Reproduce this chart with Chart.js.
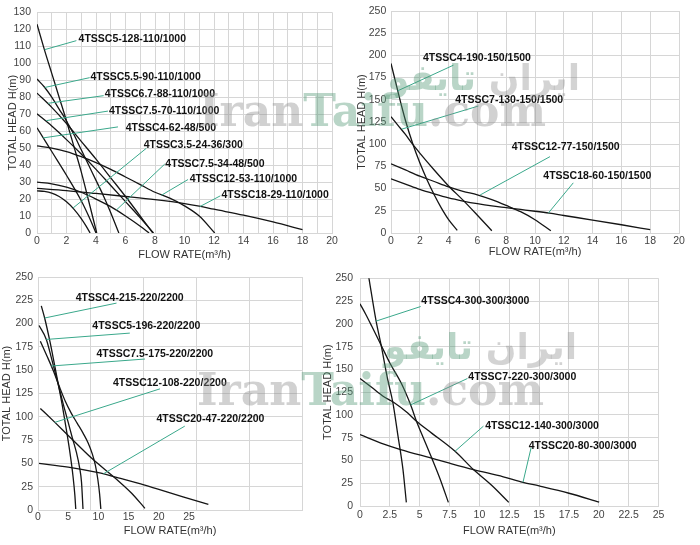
<!DOCTYPE html>
<html lang="en">
<head>
  <meta charset="UTF-8" />
  <title>4TSSC pump curves</title>
  <script src="https://cdn.jsdelivr.net/npm/chart.js"></script>
  <style>
    body { margin: 0; background: #fff; }
    .page { position: relative; width: 700px; height: 545px; overflow: hidden; }
    .box { position: absolute; }
    .wm {
      position: absolute;
      font: bold 44px 'DejaVu Serif', serif;
      line-height: 44px;
      color: rgba(140, 140, 140, 0.4);
      white-space: nowrap;
      pointer-events: none;
    }
    .fa {
      position: absolute;
      font: bold 36px 'DejaVu Sans', sans-serif;
      line-height: 36px;
      color: rgba(140, 140, 140, 0.38);
      white-space: nowrap;
      pointer-events: none;
    }
    .g { color: rgba(80, 150, 115, 0.4); }
  </style>
</head>
<body>
  <div class="page">
    <div class="box" style="left:0;top:0"><canvas id="c1" width="340" height="262"></canvas></div>
    <div class="box" style="left:340px;top:0"><canvas id="c2" width="360" height="262"></canvas></div>
    <div class="box" style="left:0;top:265px"><canvas id="c3" width="318" height="280"></canvas></div>
    <div class="box" style="left:318px;top:265px"><canvas id="c4" width="382" height="280"></canvas></div>

    <div class="fa" dir="rtl" style="right:120px;top:60px"><span>ایران</span> <span class="g">تایفو</span></div>
    <div class="wm" style="left:199px;top:89px">Iran<span class="g">Taifu</span>.com</div>
    <div class="fa" dir="rtl" style="right:123px;top:329px"><span>ایران</span> <span class="g">تایفو</span></div>
    <div class="wm" style="left:197px;top:368px">Iran<span class="g">Taifu</span>.com</div>
  </div>

  <script>
    // --- chart 1 (110/1000 family etc.) flow q (m3/h), head h (m)
    const q5_128 = [0, 0.5, 1, 1.5, 2, 2.5, 3, 3.5, 4.05];
    const h5_128 = [123, 108, 94, 80, 66, 51, 36, 19, 0];
    const q55_90 = [0, 0.5, 1, 1.5, 2, 2.5, 3, 3.5, 4, 4.5, 5, 5.55];
    const h55_90 = [90.7, 86, 80, 73, 66, 58, 49, 40, 31, 22, 12, 0];
    const q67_88 = [0, 1, 2, 3, 4, 5, 6, 7, 7.85];
    const h67_88 = [82.4, 74, 64.5, 54, 43.5, 32.5, 21.5, 10, 0];
    const q75_70 = [0, 1, 2, 3, 4, 5, 6, 7, 7.9];
    const h75_70 = [70.2, 63, 55, 46.5, 37.5, 28, 18.5, 9, 0];
    const q4_62 = [0, 1, 2, 3, 3.5, 4];
    const h4_62 = [62, 48, 34, 19, 10, 0];
    const q35_24 = [0, 0.5, 1, 1.5, 2, 2.5, 3, 3.3, 3.6];
    const h35_24 = [24.8, 24.5, 23.5, 21.5, 18.4, 14.1, 8.5, 4.5, 0];
    const q75_34 = [0, 1, 2, 3, 4, 5, 6, 7, 7.6];
    const h75_34 = [30, 29, 27, 24, 20, 15.5, 10, 4, 0];
    const q12_53 = [0, 1, 2, 3, 4, 5, 6, 7, 8, 9, 10, 11, 12.05];
    const h12_53 = [51.3, 50, 48, 45, 41.5, 37.5, 33, 28.5, 24, 20.5, 16, 10, 0];
    const q18_29 = [0, 2, 4, 6, 8, 10, 11, 12, 14, 16, 18];
    const h18_29 = [26.3, 25, 23.3, 21.5, 19.6, 17.3, 15.8, 14, 10.5, 6.5, 2];

    // --- chart 2 (150/1500)
    const q4_190 = [0, 0.5, 1, 1.5, 2, 2.5, 3, 3.5, 4, 4.6];
    const h4_190 = [191, 158, 127, 101, 79, 60, 43, 28, 15, 3];
    const q7_130 = [0, 0.5, 1, 1.5, 2, 3, 4, 5, 6, 7];
    const h7_130 = [131, 121, 111, 100, 90, 71, 53, 37, 20, 2.6];
    const q12_77 = [0, 1, 2, 3, 4, 5, 6, 7, 8, 9, 10, 11.1];
    const h12_77 = [78, 71, 64, 58, 52, 47, 43, 37.5, 31, 24, 15, 2.6];
    const q18_60 = [0, 1, 2, 3, 4, 5, 6, 7, 8, 9, 10, 11, 12, 14, 16, 18];
    const h18_60 = [61, 55, 49, 44, 39.5, 36, 33, 30.5, 28.5, 26.5, 24.5, 22.3, 19.7, 14.6, 9.3, 3.7];

    // --- chart 3 (220/2200)
    const q4_215 = [0.55, 1.1, 2, 2.7, 3.3, 4, 4.7, 5.3, 5.8, 6.1, 6.25];
    const h4_215 = [219, 206, 180, 157, 137, 113, 86, 61, 36, 16, 1];
    const q5_196 = [0.17, 1.38, 2.3, 3.3, 4.2, 5, 5.7, 6.35, 6.9, 7.2, 7.45];
    const h5_196 = [198, 183, 161, 136, 113, 94, 77, 62, 45, 30, 1];
    const q75_175 = [0.39, 1.5, 2.5, 3.5, 4.5, 5.5, 6.5, 7.5, 8.3, 9, 9.5, 9.9, 10.2, 10.4];
    const h75_175 = [181, 165, 150, 133, 117, 104, 93, 82, 72, 60, 48, 33, 17, 1];
    const q12_108 = [0.39, 2.8, 5, 8.8, 13, 15.5, 17.7];
    const h12_108 = [109, 94, 80, 56, 33, 18, 1.8];
    const q20_47 = [0.17, 5, 10, 13, 17, 20, 24, 28.2];
    const h20_47 = [50, 46, 40, 35, 28, 22, 14, 6];

    // --- chart 4 (300/3000)
    const q4_300 = [0.6, 0.75, 1.35, 1.77, 2.3, 2.76, 3.18, 3.6, 3.88];
    const h4_300 = [262, 250, 203, 176.5, 140, 113, 77, 40, 4];
    const q7_220 = [0, 0.5, 1, 1.77, 2.5, 3.46, 4.3, 4.73, 5.3, 6, 6.7, 7.4];
    const h7_220 = [222, 210, 197, 176.5, 157, 134.7, 109, 93, 75, 53, 30, 4];
    const q12_140 = [0, 1, 2, 2.84, 4, 4.73, 6, 7.96, 9.5, 11, 12.46];
    const h12_140 = [140, 130, 120, 113.6, 102, 93, 80, 60, 40, 23, 4];
    const q20_80 = [0, 2, 3.4, 5.85, 7.5, 9.5, 12, 13.65, 15, 17.5, 20.03];
    const h20_80 = [78.4, 68, 62, 53, 47, 40, 32, 26, 22, 14, 4.3];

    const FONT = "'Liberation Sans Narrow', 'Liberation Sans', Arial, sans-serif";
    const GRID = '#d6d6d6';
    const TEAL = '#3aa88b';

    function curve(q, h) {
      return {
        data: q.map((v, i) => ({ x: v, y: h[i] })),
        borderColor: '#151515',
        borderWidth: 1.3,
        pointRadius: 0,
        fill: false,
        cubicInterpolationMode: 'monotone'
      };
    }

    // model labels with teal leader lines, placed in data units
    const notesPlugin = {
      id: 'notes',
      afterDatasetsDraw(chart, args, opts) {
        const { ctx } = chart;
        const x = chart.scales.x, y = chart.scales.y;
        ctx.save();
        (opts.items || []).forEach(n => {
          ctx.strokeStyle = TEAL;
          ctx.lineWidth = 1;
          ctx.beginPath();
          ctx.moveTo(x.getPixelForValue(n.from[0]), y.getPixelForValue(n.from[1]));
          ctx.lineTo(x.getPixelForValue(n.to[0]), y.getPixelForValue(n.to[1]));
          ctx.stroke();
          ctx.fillStyle = '#111';
          ctx.font = 'bold 10.5px ' + FONT;
          ctx.textBaseline = 'middle';
          ctx.textAlign = 'left';
          ctx.fillText(n.text, x.getPixelForValue(n.at[0]), y.getPixelForValue(n.at[1]));
        });
        ctx.restore();
      }
    };

    function makeChart(id, s) {
      const scales = {
        x: {
          type: 'linear', min: s.xMin, max: s.xMax,
          grid: { display: s.xGrid !== false, color: GRID, drawTicks: false },
          border: { color: GRID },
          ticks: {
            stepSize: s.xStep, autoSkip: false, maxRotation: 0, padding: s.xPad,
            color: '#444', font: { family: FONT, size: 10.5 },
            callback: s.xLabel
          },
          title: {
            display: true, text: 'FLOW RATE(m³/h)', color: '#333',
            font: { family: FONT, size: 11 }, padding: { top: 0, bottom: s.xtPad }
          },
          afterFit: sc => { sc.height = s.xH; }
        },
        y: {
          type: 'linear', min: 0, max: s.yMax,
          grid: { color: GRID, drawTicks: false },
          border: { color: GRID },
          ticks: {
            stepSize: s.yStep, autoSkip: false, padding: s.yPad,
            color: '#444', font: { family: FONT, size: 10.5 }
          },
          title: {
            display: true, text: 'TOTAL HEAD H(m)', color: '#333',
            font: { family: FONT, size: 11 }, padding: { top: s.ytPad, bottom: 0 }
          },
          afterFit: sc => { sc.width = s.yW; }
        }
      };
      if (s.gridAxis) {
        scales.xg = {
          type: 'linear', position: 'bottom', min: 0, max: s.gridAxis,
          grid: { color: GRID, drawTicks: false },
          border: { display: false },
          ticks: { display: false, stepSize: 1 },
          afterFit: sc => { sc.height = 0; }
        };
      }
      return new Chart(document.getElementById(id), {
        type: 'line',
        data: { datasets: s.curves.map(c => curve(c[0], c[1])) },
        options: {
          responsive: false,
          devicePixelRatio: 1,
          animation: false,
          layout: { padding: s.pad },
          plugins: { legend: { display: false }, tooltip: { enabled: false }, notes: { items: s.notes } },
          scales: scales
        },
        plugins: [notesPlugin]
      });
    }

    makeChart('c1', {
      xMin: 0, xMax: 20, xStep: 1, xLabel: v => (v % 2 === 0 ? v : ''),
      yMax: 130, yStep: 10,
      pad: { left: 0, right: 8, top: 9, bottom: 0 }, yW: 37, xH: 29,
      xPad: 2, yPad: 6, ytPad: 6.4, xtPad: 0.4,
      curves: [[q5_128, h5_128], [q55_90, h55_90], [q67_88, h67_88], [q75_70, h75_70], [q4_62, h4_62],
               [q35_24, h35_24], [q75_34, h75_34], [q12_53, h12_53], [q18_29, h18_29]],
      notes: [
        { text: '4TSSC5-128-110/1000', at: [2.82, 114.1], from: [2.67, 113.3], to: [0.52, 108] },
        { text: '4TSSC5.5-90-110/1000', at: [3.62, 91.9], from: [3.57, 91.5], to: [0.52, 85.7] },
        { text: '4TSSC6.7-88-110/1000', at: [4.59, 81.8], from: [4.52, 80.9], to: [0.75, 76.4] },
        { text: '4TSSC7.5-70-110/1000', at: [4.88, 72], from: [4.81, 71.8], to: [0.63, 66.2] },
        { text: '4TSSC4-62-48/500', at: [6.01, 61.9], from: [5.49, 62.5], to: [0.41, 56] },
        { text: '4TSSC3.5-24-36/300', at: [7.23, 51.6], from: [7.41, 49.9], to: [2.44, 14.7] },
        { text: '4TSSC7.5-34-48/500', at: [8.7, 40.8], from: [8.66, 40.6], to: [5.38, 13.5] },
        { text: '4TSSC12-53-110/1000', at: [10.35, 31.5], from: [10.24, 31.5], to: [8.43, 22.2] },
        { text: '4TSSC18-29-110/1000', at: [12.5, 22.4], from: [12.43, 21.9], to: [11.03, 15.5] }
      ]
    });

    makeChart('c2', {
      xMin: 0, xMax: 20, xStep: 2,
      yMax: 250, yStep: 25,
      pad: { left: 0, right: 21, top: 9, bottom: 0 }, yW: 51, xH: 29,
      xPad: 1.5, yPad: 4.7, ytPad: 15.1, xtPad: 3.1,
      curves: [[q4_190, h4_190], [q7_130, h7_130], [q12_77, h12_77], [q18_60, h18_60]],
      notes: [
        { text: '4TSSC4-190-150/1500', at: [2.22, 197], from: [4.34, 189], to: [0.45, 160] },
        { text: '4TSSC7-130-150/1500', at: [4.46, 149.4], from: [6.07, 143], to: [0.76, 117] },
        { text: '4TSSC12-77-150/1500', at: [8.38, 96.7], from: [11.04, 86], to: [6.19, 42.8] },
        { text: '4TSSC18-60-150/1500', at: [10.58, 64.3], from: [12.66, 56.5], to: [10.92, 22.3] }
      ]
    });

    makeChart('c3', {
      xMin: 0, xMax: 43.7, xStep: 5, xGrid: false, gridAxis: 5,
      xLabel: v => (v <= 25 && v % 5 === 0 ? v : ''),
      yMax: 250, yStep: 25,
      pad: { left: 0, right: 16, top: 12, bottom: 0 }, yW: 38, xH: 35,
      xPad: 1, yPad: 5, ytPad: 0.7, xtPad: 7.4,
      curves: [[q4_215, h4_215], [q5_196, h5_196], [q75_175, h75_175], [q12_108, h12_108], [q20_47, h20_47]],
      notes: [
        { text: '4TSSC4-215-220/2200', at: [6.24, 227.4], from: [13, 222], to: [1.1, 206] },
        { text: '4TSSC5-196-220/2200', at: [9.0, 197], from: [15.2, 189.8], to: [1.38, 183] },
        { text: '4TSSC7.5-175-220/2200', at: [9.67, 167], from: [17.7, 162], to: [2.2, 154.5] },
        { text: '4TSSC12-108-220/2200', at: [12.4, 136], from: [20.2, 130], to: [2.76, 94] },
        { text: '4TSSC20-47-220/2200', at: [19.6, 97.4], from: [24.3, 90], to: [10.8, 38.7] }
      ]
    });

    makeChart('c4', {
      xMin: 0, xMax: 25, xStep: 2.5,
      yMax: 250, yStep: 25,
      pad: { left: 0, right: 41.5, top: 12, bottom: 0 }, yW: 42, xH: 39,
      xPad: 3, yPad: 7, ytPad: 3.7, xtPad: 7.9,
      curves: [[q4_300, h4_300], [q7_220, h7_220], [q12_140, h12_140], [q20_80, h20_80]],
      notes: [
        { text: '4TSSC4-300-300/3000', at: [5.14, 224.6], from: [5.08, 219], to: [1.35, 203] },
        { text: '4TSSC7-220-300/3000', at: [9.07, 141], from: [9.0, 140], to: [4.24, 111] },
        { text: '4TSSC12-140-300/3000', at: [10.48, 87.7], from: [10.34, 87.7], to: [7.95, 60] },
        { text: '4TSSC20-80-300/3000', at: [14.13, 66], from: [14.33, 64], to: [13.65, 26] }
      ]
    });
  </script>
</body>
</html>
